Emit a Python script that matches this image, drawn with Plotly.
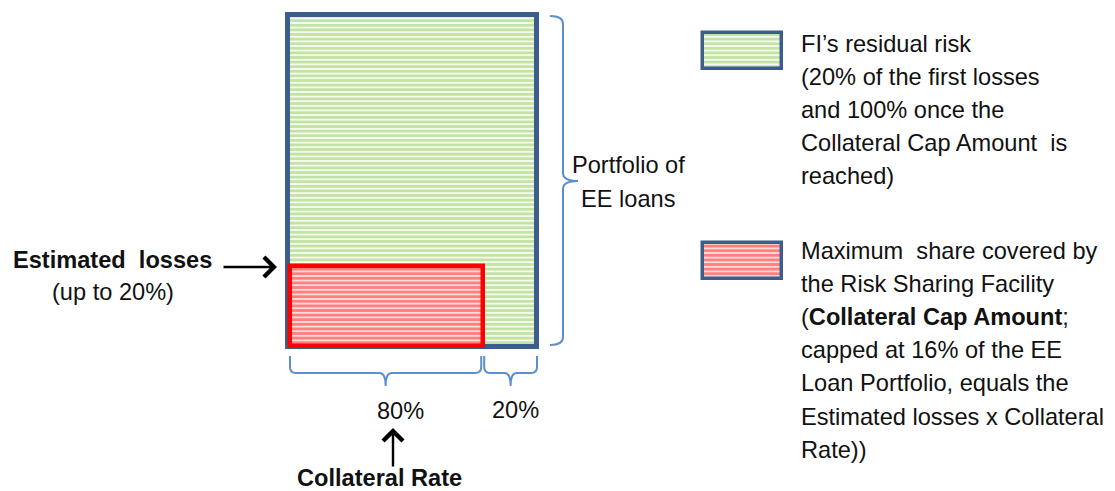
import plotly.graph_objects as go

# ---------------- data ----------------
portfolio_width = 100          # whole EE loan portfolio (x extent, %)
portfolio_height = 100         # whole EE loan portfolio (y extent, %)
segment_widths = [78, 22]      # drawn split of the portfolio width (collateral rate / remainder)
segment_labels = ["80%", "20%"]
loss_height = 24               # drawn height of the estimated-loss block
legend_green_lines = ["FI\u2019s residual risk", "(20% of the first losses", "and 100% once the",
                      "Collateral Cap Amount  is", "reached)"]
legend_red_lines = ["Maximum  share covered by", "the Risk Sharing Facility",
                    "(<b>Collateral Cap Amount</b>;", "capped at 16% of the EE",
                    "Loan Portfolio, equals the", "Estimated losses x Collateral", "Rate))"]
bracket_label_lines = ["Portfolio of", "EE loans"]

# ---------------- styling / layout ----------------
W, H = 1115, 491
X0_PX, X1_PX = 288, 537        # pixel position of x = 0 and x = portfolio_width
Y0_PX, Y1_PX = 347, 15         # pixel position of y = 0 and y = portfolio_height
SX = (X1_PX - X0_PX) / portfolio_width
SY = (Y0_PX - Y1_PX) / portfolio_height


def px(xp):
    return (xp - X0_PX) / SX


def py(yp):
    return (Y0_PX - yp) / SY


FONT = "Liberation Sans, Arial, sans-serif"
FS = 23.6
BLUE_BORDER = "#3B5E8C"
GREEN = "#86C845"
RED = "#FF0000"
BRACKET = "#5B8FD0"

fig = go.Figure()

green_pattern = dict(shape="-", fgcolor=GREEN, bgcolor="white", size=4.6, solidity=0.66)
red_pattern = dict(shape="-", fgcolor=RED, bgcolor="white", size=4.6, solidity=0.72)

# portfolio block
fig.add_trace(go.Bar(x=[portfolio_width / 2], y=[portfolio_height], base=[0], width=[portfolio_width],
                     marker=dict(color="white", pattern=green_pattern,
                                 line=dict(color=BLUE_BORDER, width=5)),
                     hoverinfo="skip", showlegend=False))
# covered block
cov_w = segment_widths[0]
fig.add_trace(go.Bar(x=[cov_w / 2 + 0.5], y=[loss_height], base=[0.4], width=[cov_w - 0.6],
                     marker=dict(color="white", pattern=red_pattern,
                                 line=dict(color=RED, width=4.5)),
                     hoverinfo="skip", showlegend=False))

# legend swatches
for (top, bot), pat in [((33, 69), green_pattern), ((243, 279), red_pattern)]:
    x_a, x_b = px(703), px(782)
    fig.add_trace(go.Bar(x=[(x_a + x_b) / 2], y=[py(top) - py(bot)], base=[py(bot)], width=[x_b - x_a],
                         marker=dict(color="white", pattern=pat,
                                     line=dict(color=BLUE_BORDER, width=3.5)),
                         hoverinfo="skip", showlegend=False))

shapes = []

# bottom brackets under the segments
def bottom_bracket(a, b):
    yt, ym, yb = py(356), py(373), py(386)
    c = (a + b) / 2
    r = px(X0_PX + 6) - px(X0_PX)
    ry = py(Y0_PX) - py(Y0_PX + 6)
    return (f"M {a},{yt} L {a},{ym + ry} Q {a},{ym} {a + r},{ym} L {c - r},{ym} "
            f"Q {c},{ym} {c},{yb} Q {c},{ym} {c + r},{ym} L {b - r},{ym} "
            f"Q {b},{ym} {b},{ym + ry} L {b},{yt}")

start = 0
gap = 0.8
for i, w in enumerate(segment_widths):
    a = start + gap
    b = start + w - gap / 2 if i == 0 else start + w
    shapes.append(dict(type="path", path=bottom_bracket(a, b), xref="x", yref="y",
                       line=dict(color=BRACKET, width=2)))
    start += w

# right bracket along the portfolio
xl, xv, xt = px(550), px(563), px(578)
yt, yb = py(16), py(345)
ym = py(181)
rr = py(Y0_PX) - py(Y0_PX + 8)
rpath = (f"M {xl},{yt} Q {xv},{yt} {xv},{yt - rr} L {xv},{ym + rr} Q {xv},{ym} {xt},{ym} "
         f"Q {xv},{ym} {xv},{ym - rr} L {xv},{yb + rr} Q {xv},{yb} {xl},{yb}")
shapes.append(dict(type="path", path=rpath, xref="x", yref="y", line=dict(color=BRACKET, width=2)))

annotations = []

def txt(x_px, y_px, text, anchor="left", bold=False):
    annotations.append(dict(x=px(x_px), y=py(y_px), xref="x", yref="y", text=(f"<b>{text}</b>" if bold else text),
                            showarrow=False, xanchor=anchor, yanchor="middle",
                            font=dict(family=FONT, size=FS, color="#111111")))

for i, line in enumerate(legend_green_lines):
    txt(799, 44 + i * 33, line)
for i, line in enumerate(legend_red_lines):
    txt(799, 251 + i * 33.1, line)

txt(628, 165, bracket_label_lines[0], anchor="center")
txt(628, 199, bracket_label_lines[1], anchor="center")

txt(112, 260, "Estimated  losses", anchor="center", bold=True)
txt(113, 292, "(up to 20%)", anchor="center")

txt(400, 411, segment_labels[0], anchor="center")
txt(515, 410, segment_labels[1], anchor="center")

txt(379, 478, "Collateral Rate", anchor="center", bold=True)

# arrows
annotations.append(dict(x=px(277), y=py(267), xref="x", yref="y", ax=-55, ay=0, text="",
                        showarrow=True, arrowhead=4, arrowsize=1.6, arrowwidth=2.4, arrowcolor="black"))
annotations.append(dict(x=px(393), y=py(428), xref="x", yref="y", ax=0, ay=40, text="",
                        showarrow=True, arrowhead=4, arrowsize=1.6, arrowwidth=2.4, arrowcolor="black"))

fig.update_layout(
    width=W, height=H,
    margin=dict(l=0, r=0, t=0, b=0),
    paper_bgcolor="white", plot_bgcolor="white",
    barmode="overlay", bargap=0,
    xaxis=dict(range=[px(0), px(W)], visible=False, fixedrange=True),
    yaxis=dict(range=[py(H), py(0)], visible=False, fixedrange=True),
    shapes=shapes, annotations=annotations,
    showlegend=False,
)

fig.write_html("out.html", post_script="document.body.style.margin='0';", config={"displayModeBar": False})
